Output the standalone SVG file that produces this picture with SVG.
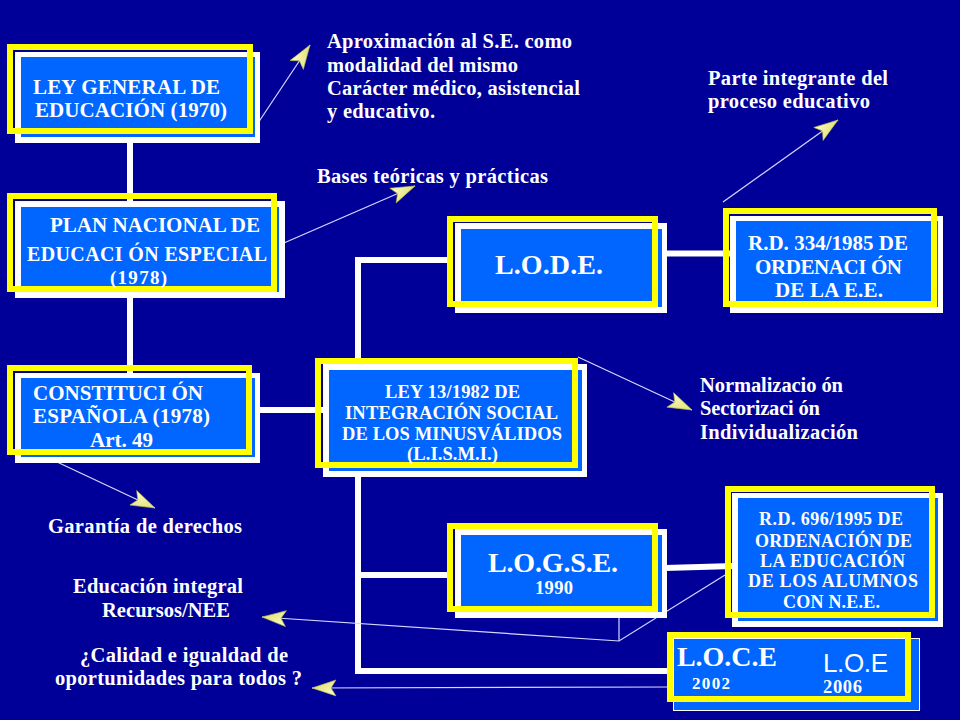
<svg xmlns="http://www.w3.org/2000/svg" width="960" height="720" viewBox="0 0 960 720">
<style>
.frame{fill:#FFFFFF}
.fill{fill:#0066FF}
.hl{fill:none;stroke:#FFFF00;stroke-width:6}
.t{font-family:"Liberation Serif","Times New Roman",serif;font-weight:bold;fill:#FFFFFF}
.n{font-size:21px}
.s{font-size:18.5px}
.big{font-size:28px}
.a{font-size:20.5px}
.yr{font-size:18.5px}
.bar{stroke:#FFFFFF;stroke-width:6;fill:none}
.thin{stroke:#D8D8FF;stroke-width:1.2;fill:none}
.arr{marker-end:url(#ah)}
</style>
<defs>
<linearGradient id="ag" x1="0" y1="0" x2="1" y2="1">
<stop offset="0" stop-color="#FFFFC8"/>
<stop offset="1" stop-color="#D8D860"/>
</linearGradient>
<marker id="ah" markerUnits="userSpaceOnUse" markerWidth="30" markerHeight="20" refX="24" refY="9" orient="auto" viewBox="0 0 30 20" overflow="visible">
<path d="M0,1 L24,9 L0,17 L5,9 Z" fill="url(#ag)" stroke="#B8B850" stroke-width="0.6"/>
</marker>
</defs>
<rect x="0" y="0" width="960" height="720" fill="#000099"/>

<g id="connectors">
<line class="bar" x1="130" y1="140" x2="130" y2="203"/>
<line class="bar" x1="130" y1="295" x2="130" y2="375"/>
<line class="bar" x1="258" y1="410" x2="325" y2="410"/>
<polyline class="bar" points="450,260 358,260 358,671 670,671"/>
<line class="bar" x1="358" y1="575" x2="450" y2="575"/>
<line class="bar" x1="665" y1="253.5" x2="732" y2="253.5"/>
<line class="bar" x1="665" y1="568" x2="734" y2="566"/>
<line class="thin arr" x1="258" y1="123" x2="310" y2="45"/>
<line class="thin arr" x1="277" y1="246" x2="415" y2="186"/>
<line class="thin arr" x1="40" y1="454" x2="155" y2="508"/>
<line class="thin arr" x1="578" y1="357" x2="692" y2="410"/>
<line class="thin arr" x1="723" y1="202" x2="838" y2="120"/>
<line class="thin" x1="619" y1="612" x2="619" y2="641"/>
<polyline class="thin arr" points="725,575 619,641 262,617"/>
<line class="thin arr" x1="673" y1="687" x2="312" y2="688"/>
</g>

<g id="ley1970">
<rect class="frame" x="15" y="52" width="245" height="91"/>
<rect class="fill" x="21" y="57" width="234" height="80"/>
<rect class="hl" x="10" y="47" width="240" height="84"/>
<text class="t n" x="33" y="94" textLength="187" lengthAdjust="spacing">LEY GENERAL DE</text>
<text class="t n" x="35" y="117" textLength="192" lengthAdjust="spacing">EDUCACIÓN (1970)</text>
</g>

<g id="plan1978">
<rect class="frame" x="15" y="201" width="270" height="97"/>
<rect class="fill" x="21" y="207" width="258" height="85"/>
<rect class="hl" x="10" y="196" width="264" height="93"/>
<text class="t n" x="50" y="232" textLength="210" lengthAdjust="spacing">PLAN NACIONAL DE</text>
<text class="t" font-size="20" x="27" y="261" textLength="240" lengthAdjust="spacing">EDUCACI ÓN ESPECIAL</text>
<text class="t" font-size="19" x="110" y="284" textLength="57" lengthAdjust="spacing">(1978)</text>
</g>

<g id="constitucion">
<rect class="frame" x="15" y="373" width="245" height="90"/>
<rect class="fill" x="21" y="378" width="234" height="79"/>
<rect class="hl" x="10" y="368" width="239" height="84"/>
<text class="t n" x="33" y="400" textLength="170" lengthAdjust="spacing">CONSTITUCI ÓN</text>
<text class="t n" x="33" y="423" textLength="177" lengthAdjust="spacing">ESPAÑOLA (1978)</text>
<text class="t n" x="90" y="447" textLength="63" lengthAdjust="spacing">Art. 49</text>
</g>

<g id="lode">
<rect class="frame" x="455" y="223" width="212" height="90"/>
<rect class="fill" x="461" y="229" width="201" height="78"/>
<rect class="hl" x="450" y="219" width="205" height="85"/>
<text class="t big" x="495" y="274" textLength="108" lengthAdjust="spacing">L.O.D.E.</text>
</g>

<g id="rd334">
<rect class="frame" x="730" y="216" width="213" height="97"/>
<rect class="fill" x="736" y="221" width="202" height="86"/>
<rect class="hl" x="726" y="211" width="208" height="93"/>
<text class="t n" x="748" y="250" textLength="160" lengthAdjust="spacing">R.D. 334/1985 DE</text>
<text class="t n" x="755" y="274" textLength="147" lengthAdjust="spacing">ORDENACI ÓN</text>
<text class="t n" x="775" y="297" textLength="108" lengthAdjust="spacing">DE LA E.E.</text>
</g>

<g id="lismi">
<rect class="frame" x="323" y="364" width="264" height="113"/>
<rect class="fill" x="329" y="370" width="253" height="101"/>
<rect class="hl" x="318" y="361" width="257" height="104"/>
<text class="t s" x="385" y="398" textLength="135" lengthAdjust="spacing">LEY 13/1982 DE</text>
<text class="t s" x="345" y="419" textLength="213" lengthAdjust="spacing">INTEGRACIÓN SOCIAL</text>
<text class="t s" x="342" y="440" textLength="220" lengthAdjust="spacing">DE LOS MINUSVÁLIDOS</text>
<text class="t s" x="407" y="460" textLength="91" lengthAdjust="spacing">(L.I.S.M.I.)</text>
</g>

<g id="logse">
<rect class="frame" x="455" y="529" width="212" height="89"/>
<rect class="fill" x="461" y="535" width="201" height="77"/>
<rect class="hl" x="450" y="526" width="205" height="83"/>
<text class="t big" x="488" y="572" textLength="130" lengthAdjust="spacing">L.O.G.S.E.</text>
<text class="t yr" x="535" y="594" textLength="38" lengthAdjust="spacing">1990</text>
</g>

<g id="rd696">
<rect class="frame" x="732" y="493" width="211" height="134"/>
<rect class="fill" x="738" y="498" width="200" height="123"/>
<rect class="hl" x="728" y="489" width="204" height="126"/>
<text class="t" font-size="18" x="759" y="525" textLength="144" lengthAdjust="spacing">R.D. 696/1995 DE</text>
<text class="t" font-size="18" x="755" y="547" textLength="157" lengthAdjust="spacing">ORDENACIÓN DE</text>
<text class="t" font-size="18" x="760" y="567" textLength="145" lengthAdjust="spacing">LA EDUCACIÓN</text>
<text class="t" font-size="18" x="748" y="587" textLength="170" lengthAdjust="spacing">DE LOS ALUMNOS</text>
<text class="t" font-size="18" x="783" y="608" textLength="97" lengthAdjust="spacing">CON N.E.E.</text>
</g>

<g id="loce-loe">
<rect x="673.5" y="638.5" width="246" height="72" fill="#0066FF" stroke="#FFFFFF" stroke-width="1"/>
<rect class="hl" x="670" y="635" width="238" height="64"/>
<text class="t big" x="677" y="666" textLength="100" lengthAdjust="spacing">L.O.C.E</text>
<text class="t" font-size="17" x="692" y="689" textLength="38" lengthAdjust="spacing">2002</text>
<text x="823" y="672" font-family="Liberation Sans, Arial, sans-serif" font-size="26" fill="#FFFFFF" textLength="65" lengthAdjust="spacing">L.O.E</text>
<text class="t yr" x="823" y="693" textLength="39" lengthAdjust="spacing">2006</text>
</g>

<g id="notes">
<text class="t a" x="327" y="48" textLength="245" lengthAdjust="spacing">Aproximación al S.E. como</text>
<text class="t a" x="327" y="72" textLength="191" lengthAdjust="spacing">modalidad del mismo</text>
<text class="t a" x="327" y="95" textLength="253" lengthAdjust="spacing">Carácter médico, asistencial</text>
<text class="t a" x="327" y="118" textLength="108" lengthAdjust="spacing">y educativo.</text>
<text class="t a" x="317" y="183" textLength="231" lengthAdjust="spacing">Bases teóricas y prácticas</text>
<text class="t a" x="708" y="85" textLength="180" lengthAdjust="spacing">Parte integrante del</text>
<text class="t a" x="708" y="108" textLength="162" lengthAdjust="spacing">proceso educativo</text>
<text class="t a" x="700" y="392" textLength="143" lengthAdjust="spacing">Normalizacio ón</text>
<text class="t a" x="700" y="415" textLength="120" lengthAdjust="spacing">Sectorizaci ón</text>
<text class="t a" x="700" y="439" textLength="158" lengthAdjust="spacing">Individualización</text>
<text class="t a" x="48" y="533" textLength="194" lengthAdjust="spacing">Garantía de derechos</text>
<text class="t a" x="73" y="593" textLength="170" lengthAdjust="spacing">Educación integral</text>
<text class="t a" x="102" y="617" textLength="128" lengthAdjust="spacing">Recursos/NEE</text>
<text class="t a" x="80" y="662" textLength="208" lengthAdjust="spacing">¿Calidad e igualdad de</text>
<text class="t a" x="55" y="685" textLength="247" lengthAdjust="spacing">oportunidades para todos ?</text>
</g>
</svg>
